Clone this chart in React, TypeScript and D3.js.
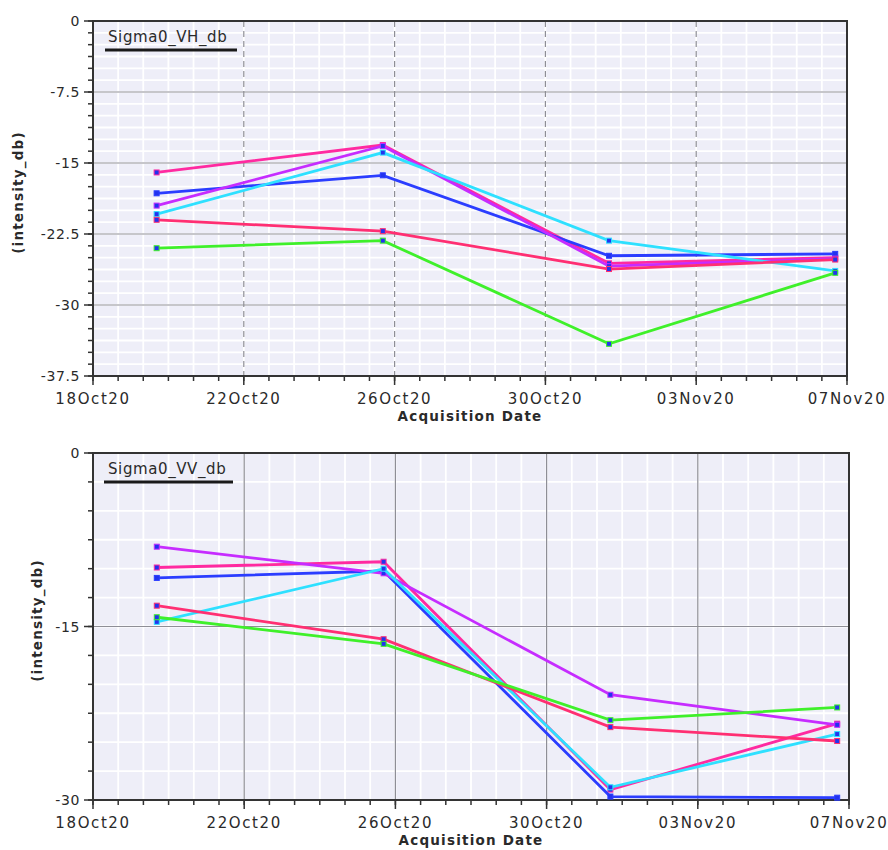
import React from "react";
import * as d3 from "d3";

// ---------- data ----------
const acquisitionDates = [
  "2020-10-19T16:30:00",
  "2020-10-25T16:30:00",
  "2020-10-31T16:30:00",
  "2020-11-06T16:30:00",
];
const xTickLabels = ["18Oct20", "22Oct20", "26Oct20", "30Oct20", "03Nov20", "07Nov20"];
const xTickDates = ["2020-10-18", "2020-10-22", "2020-10-26", "2020-10-30", "2020-11-03", "2020-11-07"];

const seriesNames = ["pink", "blue", "purple", "cyan", "red", "green"];
const seriesColors = ["#ff2aa0", "#2b3dff", "#c62cff", "#2ee0ff", "#ff2f72", "#3ff02a"];

// Sigma0_VH_db
const vhPink = [-16.0, -13.1, -25.6, -25.0];
const vhBlue = [-18.2, -16.3, -24.8, -24.6];
const vhPurple = [-19.5, -13.2, -25.9, -25.1];
const vhCyan = [-20.4, -13.9, -23.2, -26.4];
const vhRed = [-21.0, -22.2, -26.2, -25.2];
const vhGreen = [-24.0, -23.2, -34.1, -26.6];
const vhTicks = [0, -7.5, -15, -22.5, -30, -37.5];

// Sigma0_VV_db
const vvPink = [-9.9, -9.4, -29.1, -23.4];
const vvBlue = [-10.8, -10.2, -29.7, -29.8];
const vvPurple = [-8.1, -10.4, -20.9, -23.5];
const vvCyan = [-14.6, -10.0, -28.9, -24.3];
const vvRed = [-13.2, -16.1, -23.7, -24.9];
const vvGreen = [-14.2, -16.5, -23.1, -22.0];
const vvTicks = [0, -15, -30];

const FONT = "'DejaVu Sans', Verdana, sans-serif";
const INK = "#2a2a2a";

type PanelProps = {
  title: string;
  series: number[][];
  yTicks: number[];
  yMin: number;
  yMinorStep: number;
  left: number;
  right: number;
  top: number;
  bottom: number;
  dashedV: boolean;
  yLabelX: number;
  legendUnderline: [number, number];
};

function Panel(p: PanelProps) {
  const x = d3
    .scaleTime()
    .domain([new Date("2020-10-18T00:00:00"), new Date("2020-11-07T00:00:00")])
    .range([p.left, p.right]);
  const y = d3.scaleLinear().domain([p.yMin, 0]).range([p.bottom, p.top]);

  const start = new Date("2020-10-18T00:00:00").getTime();
  const minorX = d3.range(0, 31).map((i) => new Date(start + i * 16 * 3600 * 1000));
  const minorY = d3.range(0, Math.round(-p.yMin / p.yMinorStep) + 1).map((i) => -i * p.yMinorStep);
  const dates = acquisitionDates.map((d) => new Date(d));
  const majorX = xTickDates.map((d) => new Date(d + "T00:00:00"));

  const line = d3
    .line<number>()
    .x((_, i) => x(dates[i]))
    .y((v) => y(v));

  return (
    <g>
      <rect x={p.left} y={p.top} width={p.right - p.left} height={p.bottom - p.top} fill="#eeeef8" />
      {minorX.map((d, i) => (
        <line key={"mx" + i} x1={x(d)} x2={x(d)} y1={p.top} y2={p.bottom} stroke="#ffffff" strokeWidth={1.8} />
      ))}
      {minorY.map((v, i) => (
        <line key={"my" + i} x1={p.left} x2={p.right} y1={y(v)} y2={y(v)} stroke="#ffffff" strokeWidth={1.8} />
      ))}
      {p.yTicks.slice(1, -1).map((v, i) => (
        <line key={"gy" + i} x1={p.left} x2={p.right} y1={y(v)} y2={y(v)} stroke="#8e8e96" strokeWidth={1.2} />
      ))}
      {majorX.slice(1, -1).map((d, i) => (
        <line
          key={"gx" + i}
          x1={x(d)}
          x2={x(d)}
          y1={p.top}
          y2={p.bottom}
          stroke="#8e8e96"
          strokeWidth={1.2}
          strokeDasharray={p.dashedV ? "6,4" : undefined}
        />
      ))}
      {/* frame */}
      <rect
        x={p.left}
        y={p.top}
        width={p.right - p.left}
        height={p.bottom - p.top}
        fill="none"
        stroke="#333"
        strokeWidth={2}
      />
      {/* y ticks */}
      {minorY.map((v, i) => (
        <line key={"ty" + i} x1={p.left - 5} x2={p.left} y1={y(v)} y2={y(v)} stroke="#333" strokeWidth={1.5} />
      ))}
      {p.yTicks.map((v, i) => (
        <g key={"yt" + i}>
          <line x1={p.left - 9} x2={p.left} y1={y(v)} y2={y(v)} stroke="#333" strokeWidth={1.5} />
          <text
            x={p.left - 13}
            y={y(v)}
            dy="0.36em"
            textAnchor="end"
            fontFamily={FONT}
            fontSize={14}
            letterSpacing={0.6}
            fill={INK}
          >
            {String(v)}
          </text>
        </g>
      ))}
      {/* x ticks */}
      {minorX.map((d, i) => (
        <line key={"tx" + i} x1={x(d)} x2={x(d)} y1={p.bottom} y2={p.bottom + 5} stroke="#333" strokeWidth={1.5} />
      ))}
      {majorX.map((d, i) => (
        <g key={"xt" + i}>
          <line x1={x(d)} x2={x(d)} y1={p.bottom} y2={p.bottom + 9} stroke="#333" strokeWidth={1.5} />
          <text
            x={x(d)}
            y={p.bottom + 28}
            textAnchor="middle"
            fontFamily={FONT}
            fontSize={15}
            letterSpacing={1.6}
            fill={INK}
          >
            {xTickLabels[i]}
          </text>
        </g>
      ))}
      <text
        x={(p.left + p.right) / 2}
        y={p.bottom + 45}
        textAnchor="middle"
        fontFamily={FONT}
        fontSize={13.5}
        fontWeight="bold"
        letterSpacing={1.2}
        fill={INK}
      >
        Acquisition Date
      </text>
      <text
        transform={`translate(${p.yLabelX},${(p.top + p.bottom) / 2 - 6}) rotate(-90)`}
        textAnchor="middle"
        fontFamily={FONT}
        fontSize={13.5}
        fontWeight="bold"
        letterSpacing={1.2}
        fill={INK}
      >
        (intensity_db)
      </text>
      {/* legend */}
      <text x={108} y={p.top + 21} fontFamily={FONT} fontSize={15} letterSpacing={0.6} fill={INK}>
        {p.title}
      </text>
      <line
        x1={p.legendUnderline[0]}
        x2={p.legendUnderline[1]}
        y1={p.top + 29}
        y2={p.top + 29}
        stroke="#1a1a1a"
        strokeWidth={3}
      />
      {/* series */}
      {p.series.map((vals, si) => (
        <g key={"s" + si}>
          <path d={line(vals) || ""} fill="none" stroke={seriesColors[si]} strokeWidth={2.8} />
          {vals.map((v, i) => (
            <rect
              key={i}
              x={x(dates[i]) - 2.5}
              y={y(v) - 2.5}
              width={5}
              height={5}
              fill="#2233ee"
              stroke={seriesColors[si]}
              strokeWidth={1}
            />
          ))}
        </g>
      ))}
    </g>
  );
}

export default function App() {
  const vh = [vhPink, vhBlue, vhPurple, vhCyan, vhRed, vhGreen];
  const vv = [vvPink, vvBlue, vvPurple, vvCyan, vvRed, vvGreen];
  return (
    <svg
      width={888}
      height={850}
      style={{ position: "absolute", left: 0, top: 0, background: "#fff" }}
      data-series={seriesNames.join(",")}
    >
      <Panel
        title="Sigma0_VH_db"
        series={vh}
        yTicks={vhTicks}
        yMin={-37.5}
        yMinorStep={1.25}
        left={93}
        right={847}
        top={21}
        bottom={376}
        dashedV={true}
        yLabelX={23}
        legendUnderline={[105, 237]}
      />
      <Panel
        title="Sigma0_VV_db"
        series={vv}
        yTicks={vvTicks}
        yMin={-30}
        yMinorStep={2.5}
        left={93}
        right={849}
        top={453}
        bottom={800}
        dashedV={false}
        yLabelX={42}
        legendUnderline={[104, 233]}
      />
    </svg>
  );
}
